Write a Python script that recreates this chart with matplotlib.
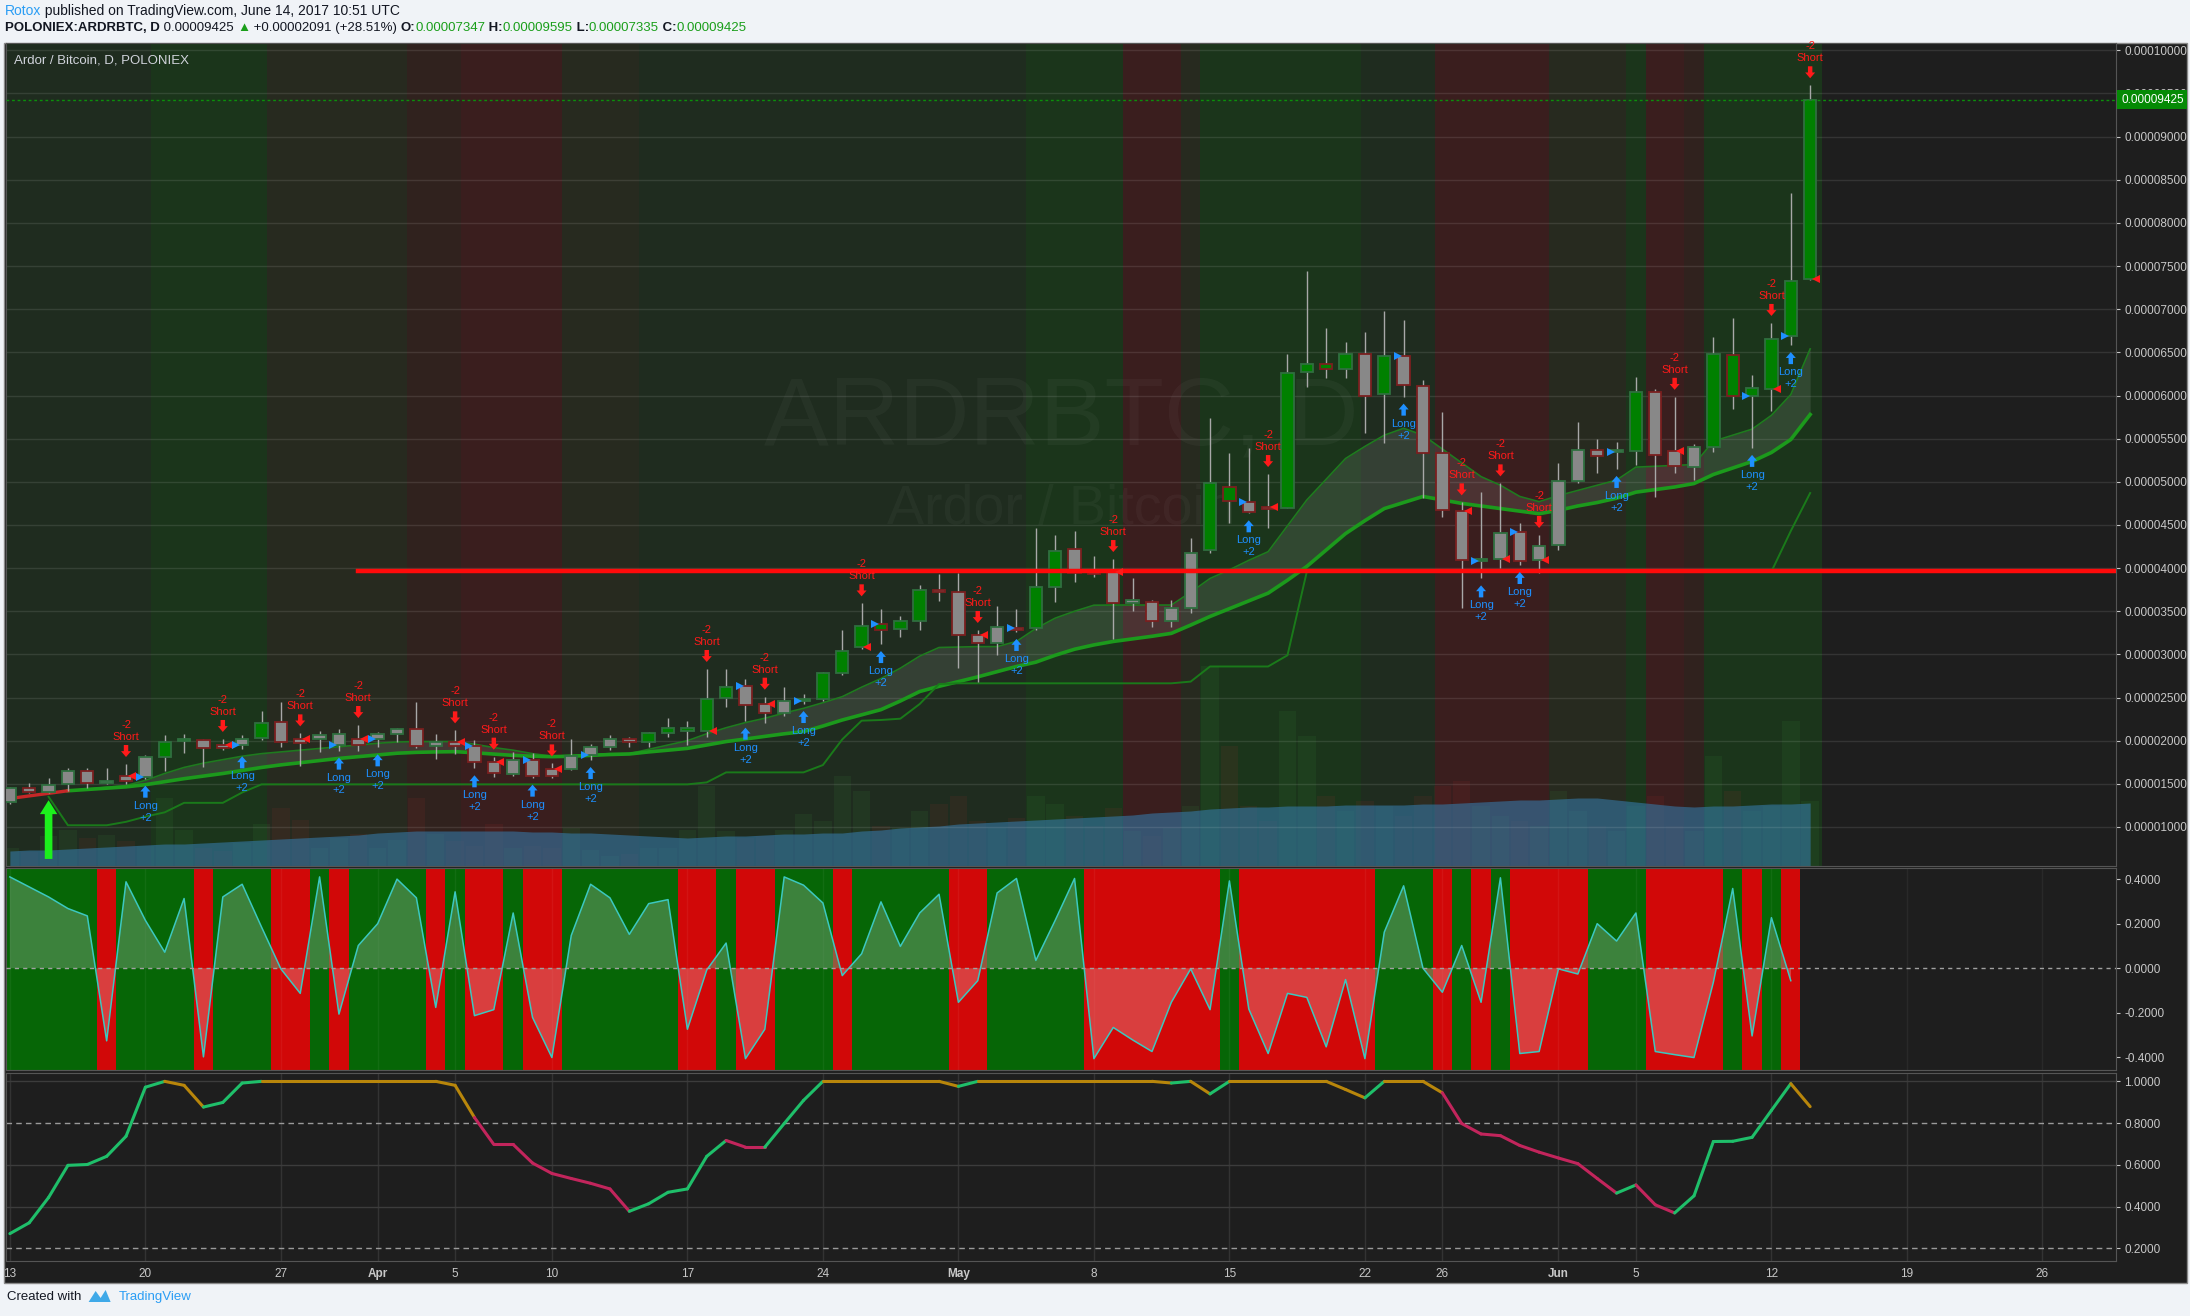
import matplotlib
matplotlib.use('Agg')
import matplotlib.pyplot as plt
import matplotlib.transforms as mtrans
from matplotlib.transforms import offset_copy
from matplotlib.patches import Rectangle, Polygon
from matplotlib.collections import LineCollection
import numpy as np

FONT = ['Liberation Sans', 'DejaVu Sans']
plt.rcParams['font.family'] = FONT

# ---- data (prices in 1e-6 BTC, day 0 = Mar 13 2017) ----
opens = [12.93, 14.48, 14.02, 14.98, 16.53, 15.06, 15.87, 15.83, 18.07, 19.97,
         20.12, 19.46, 19.46, 20.27, 22.13, 20.16, 20.16, 19.46, 20.16, 20.16,
         20.74, 21.32, 19.35, 19.89, 19.35, 17.57, 16.10, 17.72, 16.68, 16.68,
         18.34, 19.31, 20.23, 19.81, 20.85, 21.12, 21.12, 24.91, 26.38, 24.21,
         23.17, 24.64, 24.83, 27.80, 30.89, 33.48, 32.90, 33.83, 37.46, 37.27,
         32.25, 31.28, 33.10, 33.02, 37.77, 42.17, 39.59, 39.59, 35.92, 36.11,
         33.87, 35.34, 42.10, 49.44, 47.70, 47.04, 47.00, 62.69, 63.61, 63.03,
         64.77, 60.14, 64.62, 61.14, 53.30, 46.65, 40.86, 41.05, 44.22, 40.94,
         42.66, 50.08, 53.72, 53.50, 53.55, 60.36, 53.55, 51.71, 54.06, 64.65,
         59.97, 60.79, 66.91, 73.47]
highs = [14.60, 15.10, 15.68, 16.80, 16.80, 16.80, 17.30, 18.30, 20.66, 20.77,
         20.20, 20.20, 20.66, 23.44, 24.45, 20.85, 21.12, 21.32, 21.82, 20.97,
         21.43, 24.45, 20.77, 21.20, 20.08, 18.15, 18.65, 18.53, 17.37, 20.20,
         19.62, 20.66, 20.39, 21.05, 22.60, 22.28, 28.31, 28.31, 27.15, 25.10,
         26.18, 25.40, 28.00, 32.83, 35.92, 35.25, 34.45, 38.04, 39.32, 39.39,
         32.83, 35.60, 35.25, 44.68, 43.84, 44.30, 41.40, 41.05, 38.81, 36.30,
         36.30, 43.45, 57.35, 53.37, 53.88, 50.90, 64.77, 74.43, 67.78, 66.20,
         67.32, 69.79, 68.75, 61.80, 58.13, 47.62, 48.78, 49.82, 45.19, 43.84,
         52.13, 56.93, 54.92, 54.62, 62.20, 60.70, 59.85, 54.36, 66.78, 68.93,
         62.37, 68.41, 83.50, 95.95]
lows = [12.70, 13.90, 13.95, 14.17, 14.50, 14.98, 15.00, 15.60, 16.53, 18.60,
        16.99, 18.92, 19.00, 20.10, 19.30, 17.10, 18.73, 18.85, 18.85, 19.23,
        19.89, 19.20, 17.84, 18.50, 16.80, 15.83, 15.90, 15.72, 15.72, 16.60,
        17.76, 18.92, 19.31, 19.31, 20.47, 19.50, 20.47, 23.95, 22.32, 22.01,
        22.86, 24.25, 24.60, 27.60, 30.60, 31.20, 31.98, 32.83, 36.22, 28.38,
        26.84, 29.93, 32.60, 32.80, 36.10, 38.43, 39.00, 31.75, 35.07, 33.20,
        33.20, 34.76, 41.71, 45.20, 46.35, 44.68, 46.93, 61.00, 61.99, 61.99,
        55.62, 54.46, 59.87, 48.16, 45.96, 35.41, 38.81, 39.97, 40.36, 39.40,
        42.07, 49.90, 50.98, 51.49, 52.00, 48.28, 51.00, 50.20, 53.50, 58.43,
        53.93, 58.22, 65.84, 73.35]
closes = [14.48, 14.02, 14.87, 16.53, 15.14, 15.29, 15.29, 18.07, 19.89, 20.20,
          19.11, 19.11, 20.16, 22.00, 19.89, 19.77, 20.62, 20.74, 19.46, 20.74,
          21.32, 19.38, 19.89, 19.38, 17.57, 16.22, 17.72, 15.95, 15.95, 18.26,
          19.31, 20.23, 19.81, 20.85, 21.51, 21.51, 24.83, 26.26, 24.14, 23.17,
          24.56, 24.83, 27.80, 30.43, 33.29, 32.83, 33.83, 37.46, 37.19, 32.25,
          31.28, 33.21, 32.83, 37.77, 41.98, 39.39, 39.32, 35.92, 36.30, 33.87,
          35.34, 41.79, 49.82, 47.77, 46.46, 46.81, 62.65, 63.61, 63.07, 64.77,
          59.94, 64.62, 61.22, 53.38, 46.73, 40.94, 41.05, 44.03, 40.86, 42.60,
          50.08, 53.72, 52.95, 53.70, 60.36, 53.12, 51.79, 54.06, 64.77, 59.93,
          60.83, 66.57, 73.26, 94.25]
# bar colouring of the indicator: G = green body, S = grey body
bar_fill = ('SSSSSSSSGGSSSGSSSSSSSSSSSSSSSSSSSGGGGGSSSGGGGGGGSSSSSGGSSSSSSSGGSSGGGGSGSSSSGSSSSSSSGSSSGGGGGG')

ma_fast = [13.3, 13.6, 13.9, 14.2, 14.4, 14.6, 14.8, 15.4, 16.2, 16.9,
           17.4, 17.8, 18.2, 18.5, 18.7, 18.9, 19.1, 19.3, 19.5, 19.7,
           19.85, 19.9, 19.9, 19.9, 19.6, 19.2, 18.9, 18.5, 18.2, 18.3,
           18.4, 18.5, 18.5, 19.0, 19.5, 20.0, 20.8, 21.5, 22.1, 22.6,
           23.2, 23.75, 24.4, 25.1, 26.2, 27.2, 28.4, 29.8, 30.8, 30.85,
           30.9, 30.9, 31.5, 33.0, 34.2, 35.0, 35.7, 35.72, 35.72, 35.72,
           35.72, 37.2, 38.8, 39.8, 40.9, 41.9, 44.9, 47.9, 50.3, 52.7,
           54.1, 55.4, 56.2, 55.4, 53.8, 52.2, 50.6, 49.6, 48.3, 47.7,
           48.4, 49.0, 49.6, 50.2, 51.7, 51.8, 51.9, 52.0, 54.7, 55.4,
           56.1, 57.7, 60.1, 65.4]
ma_slow = [13.3, 13.6, 13.9, 14.2, 14.35, 14.5, 14.65, 14.9, 15.25, 15.6,
           15.9, 16.2, 16.55, 16.9, 17.2, 17.45, 17.7, 17.95, 18.15, 18.35,
           18.55, 18.65, 18.7, 18.73, 18.6, 18.45, 18.3, 18.2, 18.15, 18.2,
           18.3, 18.4, 18.46, 18.7, 18.9, 19.11, 19.5, 19.9, 20.2, 20.5,
           20.8, 21.05, 21.7, 22.4, 23.0, 23.6, 24.6, 25.7, 26.3, 26.85,
           27.4, 28.0, 28.6, 29.1, 29.9, 30.6, 31.1, 31.5, 31.8, 32.1,
           32.44, 33.4, 34.4, 35.3, 36.2, 37.1, 38.6, 40.2, 42.1, 44.0,
           45.5, 46.9, 47.6, 48.3, 47.9, 47.5, 47.2, 46.9, 46.6, 46.3,
           46.7, 47.2, 47.6, 48.1, 48.8, 49.1, 49.4, 49.8, 50.85, 51.6,
           52.35, 53.4, 54.9, 57.8]
# trailing stop line, starts on day 2
trail_stop = [13.5, 10.2, 10.2, 10.2, 10.6, 11.2, 11.7, 12.8, 12.8, 12.8,
              14.0] + [14.94] * 23 + [15.17] + [16.33] * 5 + \
             [17.18, 20.15, 22.32, 22.4, 22.55, 24.25, 26.57] + [26.65] * 12 + \
             [26.85, 28.6, 28.6, 28.6, 28.6, 29.9] + [39.6] * 25 + [44.3, 48.7]

volume = [18, 14, 30, 36, 28, 31, 25, 20, 68, 36, 18, 15, 23, 42, 58, 46, 18, 28, 32, 18,
          26, 68, 32, 25, 20, 42, 18, 20, 18, 38, 16, 10, 12, 18, 18, 36, 80, 35, 28, 30,
          36, 52, 45, 90, 75, 40, 38, 55, 62, 70, 45, 38, 48, 70, 62, 50, 40, 58, 35, 30,
          38, 60, 200, 120, 60, 45, 155, 130, 70, 55, 65, 60, 50, 70, 80, 85, 60, 50, 45, 40,
          75, 55, 40, 35, 60, 70, 40, 35, 110, 75, 55, 60, 145, 65]
volume_ma = [15, 16, 16, 17, 18, 19, 20, 21, 22, 22, 23, 24, 25, 26, 27, 28, 29, 30, 31, 33,
             34, 35, 35, 35, 35, 35, 35, 34, 34, 33, 33, 32, 31, 30, 29, 28, 29, 30, 30, 31,
             32, 32, 33, 33, 35, 36, 38, 39, 40, 42, 43, 44, 45, 46, 47, 48, 49, 50, 51, 53,
             54, 55, 57, 58, 59, 59, 60, 60, 60, 61, 61, 61, 61, 62, 62, 63, 64, 65, 66, 66,
             67, 68, 68, 66, 64, 62, 60, 59, 60, 60, 61, 62, 62, 63]

short_days = [6, 11, 15, 18, 23, 25, 28, 36, 39, 44, 50, 57, 65, 75, 77, 79, 86, 91, 93]
long_days = [7, 12, 17, 19, 24, 27, 30, 38, 41, 45, 52, 64, 72, 76, 78, 83, 90, 92]
support_level = 39.66
support_from = 18
last_price = 94.25

# background regime shading (start day, end day, kind)
regimes = [(-0.5, 7.3, 'dg'), (7.3, 13.3, 'g'), (13.3, 20.5, 'ol'), (20.5, 23.3, 'rd'),
           (23.3, 28.5, 'r'), (28.5, 32.5, 'ol'), (32.5, 52.5, 'dg'), (52.5, 57.5, 'g'),
           (57.5, 60.5, 'r'), (60.5, 61.5, 'ol'), (61.5, 69.8, 'g'), (69.8, 73.6, 'dg'),
           (73.6, 79.5, 'r'), (79.5, 83.5, 'ol'), (83.5, 84.5, 'g'), (84.5, 86.5, 'r'),
           (86.5, 87.5, 'rd'), (87.5, 93.6, 'g')]

osc = [0.41, 0.365, 0.32, 0.268, 0.235, -0.326, 0.388, 0.215, 0.072, 0.313,
       -0.398, 0.32, 0.377, 0.185, -0.003, -0.113, 0.41, -0.206, 0.102, 0.2,
       0.4, 0.316, -0.176, 0.343, -0.213, -0.186, 0.248, -0.221, -0.401, 0.147,
       0.377, 0.316, 0.152, 0.29, 0.308, -0.274, -0.008, 0.113, -0.406, -0.274,
       0.41, 0.373, 0.293, -0.033, 0.065, 0.298, 0.098, 0.248, 0.332, -0.153,
       -0.056, 0.338, 0.403, 0.035, 0.215, 0.403, -0.406, -0.266, -0.322, -0.374,
       -0.153, -0.003, -0.186, 0.392, -0.183, -0.383, -0.113, -0.131, -0.353, -0.051,
       -0.406, 0.162, 0.37, 0.0, -0.108, 0.102, -0.153, 0.406, -0.383, -0.374,
       -0.003, -0.026, 0.2, 0.122, 0.248, -0.374, -0.388, -0.401, -0.063, 0.358,
       -0.304, 0.227, -0.056]

stoch = [0.271, 0.323, 0.444, 0.598, 0.602, 0.641, 0.737, 0.972, 1.0, 0.981,
         0.877, 0.899, 0.992, 1.0, 1.0, 1.0, 1.0, 1.0, 1.0, 1.0,
         1.0, 1.0, 1.0, 0.981, 0.827, 0.698, 0.698, 0.609, 0.559, 0.535,
         0.512, 0.485, 0.378, 0.414, 0.469, 0.485, 0.641, 0.717, 0.685, 0.685,
         0.798, 0.909, 1.0, 1.0, 1.0, 1.0, 1.0, 1.0, 1.0, 0.976,
         1.0, 1.0, 1.0, 1.0, 1.0, 1.0, 1.0, 1.0, 1.0, 1.0,
         0.992, 1.0, 0.94, 1.0, 1.0, 1.0, 1.0, 1.0, 1.0, 0.961,
         0.921, 1.0, 1.0, 1.0, 0.945, 0.798, 0.748, 0.740, 0.693, 0.661,
         0.633, 0.606, 0.535, 0.465, 0.504, 0.409, 0.37, 0.452, 0.712, 0.713,
         0.732, 0.861, 0.989, 0.879]

tick_days = [0, 7, 14, 19, 23, 28, 35, 42, 49, 56, 63, 70, 74, 80, 84, 91, 98, 105]
tick_labels = ['13', '20', '27', 'Apr', '5', '10', '17', '24', 'May', '8', '15', '22', '26',
               'Jun', '5', '12', '19', '26']

# ---- figure ----
W, H = 2190, 1316
fig = plt.figure(figsize=(W / 100, H / 100), dpi=100, facecolor='#f0f3f7')


def fbox(x0, y0, x1, y1):
    return [x0 / W, 1 - y1 / H, (x1 - x0) / W, (y1 - y0) / H]


BG = '#1e1e1e'
TXT = '#c8c8c8'
GRID = '#ffffff'
TICK = 8.5
fig.add_artist(Rectangle((4 / W, 1 - 1283 / H), 2183 / W, 1240 / H, transform=fig.transFigure,
                         facecolor=BG, edgecolor='#8a8a8a', lw=1, zorder=-10))

XL = (-0.2, 108.8)
days = np.arange(len(closes))

axv = fig.add_axes(fbox(6, 43, 2116, 866))
ax = axv.twinx()
ax.set_zorder(axv.get_zorder() + 1)
ax.patch.set_visible(False)
axv.set_facecolor(BG)
axv.set_xlim(*XL)
axv.set_ylim(0, 823)
axv.set_yticks([])
axv.tick_params(labelbottom=False, bottom=False)

band_col = {'dg': '#1f2c1f', 'g': '#1b351b', 'ol': '#272a1f', 'rd': '#30221e', 'r': '#3a1e1e'}
for a, b, k in regimes:
    axv.axvspan(a, b, color=band_col[k], lw=0, zorder=0)

axv.text(0.5, 0.543, 'ARDRBTC, D', transform=axv.transAxes, ha='center', va='center',
         fontsize=70, color='#ffffff', alpha=0.035)
axv.text(0.5, 0.433, 'Ardor / Bitcoin', transform=axv.transAxes, ha='center', va='center',
         fontsize=40, color='#ffffff', alpha=0.035)

up = np.array(closes) >= np.array(opens)
vcols = ['#3f9a3f' if u else '#b03030' for u in up]
axv.bar(days, volume, width=0.9, color=vcols, alpha=0.1, lw=0, zorder=1)
axv.fill_between(days, 0, volume_ma, color='#3578a6', alpha=0.6, lw=0, zorder=2)

# price panel
ax.set_xlim(*XL)
ax.set_ylim(5.48, 100.85)
yt = np.arange(10, 101, 5)
ax.set_yticks(yt)
ax.set_yticklabels([f'{v / 1e6:.8f}' for v in yt])
ax.set_xticks(tick_days)
ax.tick_params(axis='x', length=0, labelbottom=False)
ax.tick_params(axis='y', colors=TXT, labelsize=TICK, length=3, pad=3)
ax.grid(True, color=GRID, alpha=0.1, lw=1)
ax.set_axisbelow(True)
for s in ax.spines.values():
    s.set_color('#555555')
for s in axv.spines.values():
    s.set_visible(False)

ax.text(0.0038, 0.979, 'Ardor / Bitcoin, D, POLONIEX', transform=ax.transAxes,
        color='#d1d4dc', fontsize=9.5, va='center', ha='left')

ax.fill_between(days, ma_slow, ma_fast, color='#c8c8c8', alpha=0.13, lw=0, zorder=2)
ax.plot(days[3:], ma_fast[3:], color='#1f7a1f', lw=1.2, zorder=3)
ax.plot(days[3:], ma_slow[3:], color='#1c9a1c', lw=2.6, zorder=3)
ax.plot(days[:4], ma_fast[:4], color='#c62828', lw=1.2, zorder=3)
ax.plot(days[:4], ma_slow[:4], color='#c62828', lw=2.4, zorder=3)
ax.plot(days[2:], trail_stop, color='#1a7a1a', lw=1.4, zorder=3)

ax.plot([support_from, XL[1]], [support_level, support_level], color='#ff0a0a', lw=3.2, zorder=6)

# candles
body_lo = np.minimum(opens, closes)
body_h = np.maximum(np.abs(np.array(closes) - np.array(opens)), 0.15)
fills = ['#008000' if f == 'G' else '#888888' for f in bar_fill]
edges = ['#2f6f3f' if u else '#7a1f1f' for u in up]
ax.vlines(days, lows, highs, color='#a8a8a8', lw=1, zorder=4)
ax.bar(days, body_h, bottom=body_lo, width=0.64, color=fills, edgecolor=edges, lw=1.3, zorder=5)

RED = '#ff1a1a'
BLUE = '#1e90ff'


def off(dy):
    return offset_copy(ax.transData, fig=fig, x=0, y=dy, units='dots')


astyle = 'simple,head_length=0.42,head_width=0.72,tail_width=0.32'
for d in short_days:
    ax.annotate('', xy=(d, highs[d]), xycoords=off(7), xytext=(d, highs[d]), textcoords=off(19),
                arrowprops=dict(arrowstyle=astyle, color=RED, lw=0, shrinkA=0, shrinkB=0,
                                mutation_scale=10), zorder=7)
    ax.text(d, highs[d], 'Short', transform=off(27), color=RED, fontsize=8, ha='center', va='center', zorder=7)
    ax.text(d, highs[d], '-2', transform=off(39), color=RED, fontsize=8, ha='center', va='center', zorder=7)
    ax.plot(d + 0.3, opens[d], marker='<', color=RED, ms=6, mew=0, zorder=7)
for d in long_days:
    ax.annotate('', xy=(d, lows[d]), xycoords=off(-7), xytext=(d, lows[d]), textcoords=off(-19),
                arrowprops=dict(arrowstyle=astyle, color=BLUE, lw=0, shrinkA=0, shrinkB=0,
                                mutation_scale=10), zorder=7)
    ax.text(d, lows[d], 'Long', transform=off(-27), color=BLUE, fontsize=8, ha='center', va='center', zorder=7)
    ax.text(d, lows[d], '+2', transform=off(-39), color=BLUE, fontsize=8, ha='center', va='center', zorder=7)
    ax.plot(d - 0.3, opens[d], marker='>', color=BLUE, ms=6, mew=0, zorder=7)

# big entry arrow
ax.annotate('', xy=(2, 13.1), xytext=(2, 6.3),
            arrowprops=dict(arrowstyle='simple,head_length=1.0,head_width=1.25,tail_width=0.55',
                            color='#1cf01c', lw=0, shrinkA=0, shrinkB=0, mutation_scale=10), zorder=8)

# last price
ax.axhline(last_price, color='#0b8f0b', lw=1, ls=(0, (2, 2)), zorder=6)
ax.text(1.0, last_price, '0.00009425', transform=mtrans.blended_transform_factory(
    offset_copy(ax.transAxes, fig=fig, x=5, y=0, units='dots'), ax.transData),
        color='white', fontsize=TICK, ha='left', va='center', clip_on=False, zorder=20,
        bbox=dict(boxstyle='square,pad=0.3', fc='#058a05', ec='none'))

# oscillator panel
ax_o = fig.add_axes(fbox(6, 868, 2116, 1070))
ax_o.set_facecolor(BG)
ax_o.set_xlim(*XL)
oy = (-0.457, 0.45)
ax_o.set_ylim(*oy)
od = np.arange(len(osc))
osc_a = np.array(osc)
ax_o.bar(od, oy[1] - oy[0], bottom=oy[0], width=1.0,
         color=['#d10808' if v < 0 else '#066606' for v in osc_a], lw=0, zorder=1)
ax_o.fill_between(od, 0, osc_a, where=osc_a >= 0, interpolate=True, color='#6a9a6a', alpha=0.55, lw=0, zorder=2)
ax_o.fill_between(od, 0, osc_a, where=osc_a <= 0, interpolate=True, color='#e27575', alpha=0.5, lw=0, zorder=2)
ax_o.plot(od, osc_a, color='#3cc8c0', lw=1.1, zorder=3)
ax_o.axhline(0, color='#a0a0a0', lw=1, ls=(0, (3, 3)), zorder=4)
ax_o.yaxis.tick_right()
ot = [0.4, 0.2, 0.0, -0.2, -0.4]
ax_o.set_yticks(ot)
ax_o.set_yticklabels([f'{v:.4f}' for v in ot])
ax_o.set_xticks(tick_days)
ax_o.tick_params(axis='x', length=0, labelbottom=False)
ax_o.tick_params(axis='y', colors=TXT, labelsize=TICK, length=3, pad=3)
for s in ax_o.spines.values():
    s.set_color('#555555')
for d in tick_days:
    ax_o.axvline(d, color='#ffffff', alpha=0.05, lw=1, zorder=1.5)

# bottom panel
ax_b = fig.add_axes(fbox(6, 1073, 2116, 1261))
ax_b.set_facecolor(BG)
ax_b.set_xlim(*XL)
ax_b.set_ylim(0.14, 1.04)
for v in [1.0, 0.6, 0.4]:
    ax_b.axhline(v, color='#3c3c3c', lw=1, zorder=1)
for v in [0.8, 0.2]:
    ax_b.axhline(v, color='#9a9a9a', lw=1, ls=(0, (4, 3)), zorder=1)
for d in tick_days:
    ax_b.axvline(d, color='#333333', lw=1, zorder=0)
sd = np.arange(len(stoch))
segs, cols = [], []
for i in range(len(stoch) - 1):
    segs.append([(sd[i], stoch[i]), (sd[i + 1], stoch[i + 1])])
    if stoch[i + 1] > stoch[i]:
        cols.append('#1fbf6a')
    elif stoch[i + 1] >= 0.8:
        cols.append('#b8860b')
    else:
        cols.append('#c2255c')
ax_b.add_collection(LineCollection(segs, colors=cols, linewidths=2.2, zorder=3, capstyle='round'))
ax_b.yaxis.tick_right()
bt = [1.0, 0.8, 0.6, 0.4, 0.2]
ax_b.set_yticks(bt)
ax_b.set_yticklabels([f'{v:.4f}' for v in bt])
ax_b.set_xticks(tick_days)
ax_b.set_xticklabels(tick_labels)
for lab in ax_b.get_xticklabels():
    if lab.get_text() in ('Apr', 'May', 'Jun'):
        lab.set_fontweight('bold')
ax_b.tick_params(axis='x', colors=TXT, labelsize=TICK, length=0, pad=5)
ax_b.tick_params(axis='y', colors=TXT, labelsize=TICK, length=3, pad=3)
for s in ax_b.spines.values():
    s.set_color('#555555')

# header / footer
renderer = fig.canvas.get_renderer()


def chain(x_px, y_px, parts, size):
    x = x_px
    for s, col, wt in parts:
        t = fig.text(x / W, 1 - y_px / H, s, color=col, fontweight=wt, fontsize=size,
                     ha='left', va='center')
        x += t.get_window_extent(renderer=renderer).width
    return x


DARK = '#131722'
GRN = '#1a9e1a'
chain(5, 11, [('Rotox', '#2a9df4', 'normal'),
              (' published on TradingView.com, June 14, 2017 10:51 UTC', DARK, 'normal')], 10)
chain(5, 28, [('POLONIEX:ARDRBTC, D', DARK, 'bold'), (' 0.00009425 ', DARK, 'normal'),
              ('\u25b2', GRN, 'normal'), (' +0.00002091 (+28.51%) ', DARK, 'normal'),
              ('O:', DARK, 'bold'), ('0.00007347', GRN, 'normal'),
              (' H:', DARK, 'bold'), ('0.00009595', GRN, 'normal'),
              (' L:', DARK, 'bold'), ('0.00007335', GRN, 'normal'),
              (' C:', DARK, 'bold'), ('0.00009425', GRN, 'normal')], 9.5)
xe = chain(7, 1297, [('Created with  ', DARK, 'normal')], 9.5)
logo = Polygon([(xe / W, 1 - 1302 / H), ((xe + 7) / W, 1 - 1291 / H), ((xe + 12) / W, 1 - 1298 / H),
                ((xe + 17) / W, 1 - 1290 / H), ((xe + 22) / W, 1 - 1302 / H)],
               closed=True, transform=fig.transFigure, facecolor='#3fa9e8', edgecolor='none')
fig.add_artist(logo)
chain(xe + 30, 1297, [('TradingView', '#2a9df4', 'normal')], 9.5)

fig.savefig('out.png', dpi=100, facecolor=fig.get_facecolor())
